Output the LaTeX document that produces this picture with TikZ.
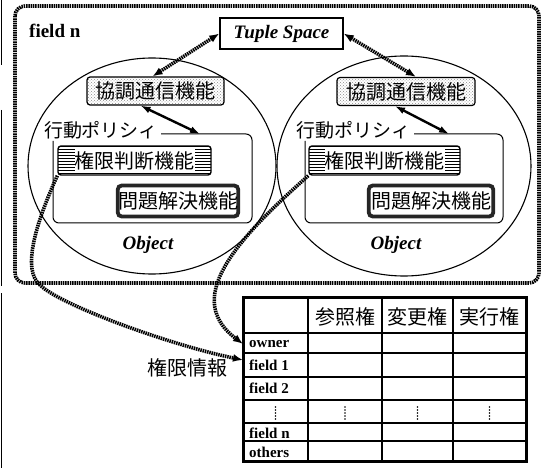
\documentclass[tikz,border=0pt]{standalone}
\usepackage{fontspec}
\setmainfont{Liberation Serif}
\newfontfamily\jp{Noto Sans CJK JP}
\usetikzlibrary{arrows.meta,patterns,calc}
\begin{document}
\begin{tikzpicture}[x=1pt,y=-1pt,
  hatch/.style={line width=3.6pt, dash pattern=on 1.5pt off 0.8pt},
  harrow/.style={hatch,{Latex[length=10pt,width=8pt]}-{Latex[length=10pt,width=8pt]}},
  hend/.style={hatch,-{Latex[length=10pt,width=8pt]}},
  sarrow/.style={line width=2.4pt,{Latex[length=10pt,width=7pt]}-{Latex[length=10pt,width=7pt]}},
  jpf/.style={font=\jp\fontsize{#1}{#1}\selectfont},
  kyo/.style={draw, line width=1.2pt, rounded corners=3pt, preaction={fill=white}, pattern=crosshatch dots, pattern color=black!45, minimum width=137pt, minimum height=28pt, inner sep=0pt, jpf=20},
  kenbox/.style={draw, line width=1.4pt, rounded corners=3pt, preaction={fill=white}, pattern=horizontal lines, minimum height=29pt, inner sep=0pt},
  kentext/.style={fill=white, minimum width=118pt, minimum height=26pt, inner sep=0pt, jpf=20},
  monbox/.style={draw=black!85, line width=3.8pt, rounded corners=4pt, fill=white, minimum height=31pt, inner sep=0pt, jpf=20},
  pollabel/.style={inner sep=0pt, jpf=19},
  polbox/.style={line width=1pt, rounded corners=6pt},
  bi/.style={font=\bfseries\itshape\fontsize{19}{19}\selectfont, inner sep=0pt},
  rowlab/.style={font=\bfseries\fontsize{15}{15}\selectfont, anchor=west, inner sep=0pt},
  circ/.style={line width=1.1pt},
  thin/.style={line width=1.1pt},
]
\useasboundingbox (0,0) rectangle (544,468);
% page-edge fragments
\draw[line width=0.8pt] (1,0) -- (1,65) (1,110) -- (1,286) (1,293) -- (1,468);
% field frame
\draw[hatch, rounded corners=10pt] (15,6) rectangle (539,283);
\node[font=\bfseries\fontsize{19}{19}\selectfont, anchor=west, inner sep=0pt] (fieldn) at (29,31) {field n};
% objects
\draw[circ] (152,166) ellipse [x radius=124pt, y radius=108pt];
\draw[circ] (404,166) ellipse [x radius=127pt, y radius=110pt];
\node[bi] (obj1) at (148,245) {Object};
\node[bi] (obj2) at (396,245) {Object};
% tuple space
\node[draw, line width=1.3pt, fill=white, minimum width=123pt, minimum height=31pt, inner sep=0pt, bi] (ts) at (281.5,33.5) {Tuple Space};
% left object internals
\node[kyo] (kyo1) at (155.5,91) {協調通信機能};
\node[pollabel] (pol1) at (101,130) {行動ポリシィ};
\draw[polbox] (161,134) -- (252,134) -- (252,223) -- (53,223) -- (53,141);
\node[kenbox, minimum width=153pt] (ken1) at (134.5,160.5) {};
\node[kentext] (ken1t) at (ken1.center) {権限判断機能};
\node[monbox, minimum width=120.5pt] (mon1) at (178,201) {問題解決機能};
% right object internals
\node[kyo, minimum width=138pt] (kyo2) at (406,91.5) {協調通信機能};
\node[pollabel] (pol2) at (353,130) {行動ポリシィ};
\draw[polbox] (414,134) -- (503,134) -- (503,223) -- (305,223) -- (305,141);
\node[kenbox, minimum width=151pt] (ken2) at (384.5,160.5) {};
\node[kentext] (ken2t) at (ken2.center) {権限判断機能};
\node[monbox, minimum width=124.5pt] (mon2) at (431,201) {問題解決機能};
% connectors
\coordinate (p1) at (200,134);
\coordinate (p2) at (449,134);
\draw[sarrow] ($(kyo1.south)+(-15,0)$) -- (p1);
\draw[sarrow] ($(kyo2.south)+(-11,0)$) -- (p2);
\draw[harrow] (ts.west) -- ($(kyo1.north)+(-3,0)$);
\draw[harrow] (ts.east) -- ($(kyo2.north)+(10,0)$);
% table
\node[draw, line width=3pt, minimum width=283pt, minimum height=164pt, inner sep=0pt] (tbl) at (384.5,379) {};
\draw[line width=2.4pt] (243,333) -- (526,333);
\draw[line width=2pt] (308,297) -- (308,461);
\draw[thin] (382,297) -- (382,461) (453,297) -- (453,461);
\draw[thin] (243,353) -- (526,353) (243,377) -- (526,377) (243,400) -- (526,400) (243,423) -- (526,423) (243,441) -- (526,441);
\node[jpf=20, inner sep=0pt] (h1) at (345,317) {参照権};
\node[jpf=20, inner sep=0pt] (h2) at (417.5,317) {変更権};
\node[jpf=20, inner sep=0pt] (h3) at (489.5,317) {実行権};
\node[rowlab] (r1) at (249,344) {owner};
\node[rowlab] (r2) at (249,365) {field 1};
\node[rowlab] (r3) at (249,388.5) {field 2};
\node[rowlab] (r5) at (249,433) {field n};
\node[rowlab] (r6) at (249,452) {others};
\foreach \cx in {275.5,345,417.5,489.5}{
  \foreach \cy in {407,410,413,416,419}{
    \fill (\cx,\cy) circle [radius=0.85pt];
  }
}
\node[jpf=20, inner sep=0pt] (kenjoho) at (187,368) {権限情報};
% rights-information links
\coordinate (tin1) at (243,360);
\coordinate (tin2) at (243,344);
\draw[hend] (ken1.south west) .. controls (35,225) and (22,270) .. (40,285) .. controls (60,305) and (170,345) .. (tin1);
\draw[hend] (ken2.south west) .. controls (230,245) and (185,300) .. (tin2);
\end{tikzpicture}
\end{document}
